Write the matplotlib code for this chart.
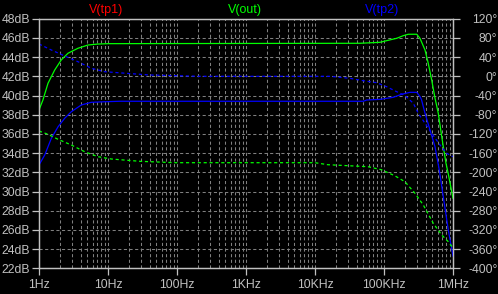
import numpy as np
import matplotlib
matplotlib.use('Agg')
import matplotlib.pyplot as plt
from matplotlib.ticker import FixedLocator, NullFormatter

# V(out) magnitude (dB) vs frequency (Hz)
out_mag_f = [1, 1.14, 1.35, 1.69, 2.10, 2.63, 3.67, 5.13, 7.16, 10, 44.9e3, 87.5e3, 109e3,
             153e3, 190e3, 225e3, 298e3, 332e3, 393e3, 438e3, 491e3, 548e3, 612e3, 664e3,
             723e3, 792e3, 855e3, 936e3, 1e6]
out_mag_db = [38.49, 39.53, 41.27, 42.66, 43.70, 44.40, 44.92, 45.26, 45.36, 45.40, 45.44,
              45.54, 45.71, 45.96, 46.23, 46.38, 46.38, 45.96, 44.74, 43.35, 41.61, 39.74,
              38.15, 36.41, 34.67, 32.94, 31.82, 30.36, 29.29]

# V(out) phase (deg)
out_ph_f = [1, 1.35, 1.89, 2.94, 4.59, 7.16, 11.2, 29.1, 93.6, 10e3, 15.4e3, 58.6e3, 91.4e3,
            143e3, 201e3, 281e3, 371e3, 518e3, 686e3, 855e3, 968e3]
out_ph_deg = [-114.0, -120.8, -131.3, -143.1, -157.1, -167.5, -172.3, -177.1, -180, -180,
              -184.2, -188.3, -194.6, -207.1, -219.6, -243.7, -268.1, -306.3, -330.6,
              -344.6, -355.0]

# V(tp2) magnitude (dB)
tp2_mag_f = [1, 1.21, 1.51, 1.89, 2.36, 2.94, 4.10, 5.73, 8.95, 14.9, 50.1e3, 56.1e3, 87.5e3,
             136e3, 181e3, 238e3, 298e3, 332e3, 350e3, 393e3, 464e3, 548e3, 633e3, 723e3,
             855e3, 1e6]
tp2_mag_db = [32.76, 33.80, 35.54, 36.75, 37.63, 38.31, 39.01, 39.29, 39.35, 39.40, 39.40,
              39.53, 39.60, 39.81, 40.13, 40.33, 40.33, 39.90, 39.55, 38.15, 36.41, 34.67,
              32.24, 29.46, 25.99, 23.28]

# V(tp2) phase (deg)
tp2_ph_f = [1, 1.51, 2.36, 3.67, 5.73, 8.95, 13.9, 40.5, 216, 10e3, 16.5e3, 32.1e3, 50.1e3,
            78.3e3, 109e3, 153e3, 201e3, 266e3, 314e3, 393e3, 491e3, 649e3, 811e3, 1e6]
tp2_ph_deg = [67.3, 54.8, 42.3, 30.4, 16.7, 9.6, 7.5, 2.7, 0, 0, 0, -4.2, -9.2, -13.3, -21.7,
              -32.1, -40.0, -56.2, -77.1, -97.9, -118.7, -143.1, -160.4, -167.5]

x_ticks = [1, 10, 100, 1e3, 1e4, 1e5, 1e6]
x_labels = ['1Hz', '10Hz', '100Hz', '1KHz', '10KHz', '100KHz', '1MHz']
db_ticks = list(range(22, 49, 2))
deg_ticks = list(range(-400, 121, 40))

GRID = '#808080'
AXC = '#c0c0c0'
GREEN = '#00ff00'
BLUE = '#0000ff'
RED = '#ff0000'

plt.rcParams['font.family'] = ['Liberation Sans', 'DejaVu Sans']

fig = plt.figure(figsize=(4.98, 2.94), dpi=100, facecolor='black')
ax = fig.add_axes([39 / 498, 1 - 268.3 / 294, 414 / 498, 249.6 / 294])
ax.set_facecolor('black')
ax.set_xscale('log')
ax.set_xlim(1, 1e6)
ax.set_ylim(22, 48)

ax2 = ax.twinx()
ax2.set_ylim(-400, 120)

# grid
minor = [m * 10 ** d for d in range(6) for m in range(2, 10)]
ax.xaxis.set_major_locator(FixedLocator(x_ticks))
ax.xaxis.set_minor_locator(FixedLocator(minor))
ax.xaxis.set_minor_formatter(NullFormatter())
ax.set_xticklabels(x_labels)
ax.set_yticks(db_ticks)
ax.set_yticklabels([f'{v}dB' for v in db_ticks])
ax2.set_yticks(deg_ticks)
ax2.set_yticklabels([f'{v}°' for v in deg_ticks])

for v in x_ticks[1:-1] + minor:
    ax.axvline(v, color=GRID, lw=0.75, ls=(0, (3, 2.4)), zorder=1)
for v in db_ticks[1:-1]:
    ax.axhline(v, color=GRID, lw=0.75, ls=(0, (3, 2.4)), zorder=1)

for a in (ax, ax2):
    for s in a.spines.values():
        s.set_color(AXC)
        s.set_linewidth(0.9)
ax.tick_params(axis='both', which='major', colors=AXC, labelsize=8.8, length=5, width=0.9,
               direction='out', pad=1.5)
ax.tick_params(axis='x', which='minor', length=0)
ax.tick_params(axis='x', pad=3)
# right labels end near the right edge of the picture
ax2.tick_params(axis='y', colors=AXC, labelsize=8.8, length=5, width=0.9, direction='out',
                pad=27)
for lab in ax2.get_yticklabels():
    lab.set_horizontalalignment('right')

ax.plot(out_mag_f, out_mag_db, color=GREEN, lw=0.9, zorder=3)
ax.plot(tp2_mag_f, tp2_mag_db, color=BLUE, lw=0.9, zorder=3)
ax2.plot(out_ph_f, out_ph_deg, color=GREEN, lw=0.9, ls=(0, (2.5, 2.2)))
ax2.plot(tp2_ph_f, tp2_ph_deg, color=BLUE, lw=0.9, ls=(0, (2.5, 2.2)))

fig.text(106 / 498, 1 - 10 / 294, 'V(tp1)', color=RED, fontsize=9, ha='center', va='center')
fig.text(244.5 / 498, 1 - 10 / 294, 'V(out)', color=GREEN, fontsize=9, ha='center', va='center')
fig.text(382 / 498, 1 - 10 / 294, 'V(tp2)', color=BLUE, fontsize=9, ha='center', va='center')

fig.savefig('out.png', dpi=100, facecolor='black')
